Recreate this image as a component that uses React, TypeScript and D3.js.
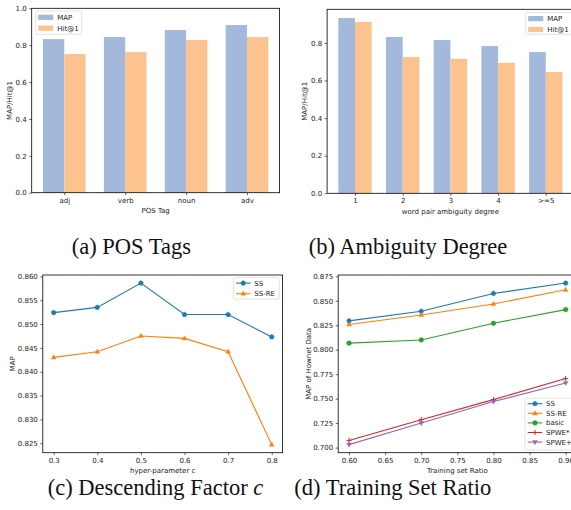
import React, { useEffect, useRef } from 'react';
import * as d3 from 'd3';

// (a) POS tags
const posTags = ['adj', 'verb', 'noun', 'adv'];
const posMap = [0.833, 0.844, 0.882, 0.909];
const posHit = [0.752, 0.763, 0.828, 0.844];

// (b) ambiguity degree
const ambDegrees = ['1', '2', '3', '4', '>=5'];
const ambMap = [0.932, 0.831, 0.815, 0.783, 0.751];
const ambHit = [0.911, 0.725, 0.715, 0.694, 0.645];

// (c) descending factor c
const cValues = [0.3, 0.4, 0.5, 0.6, 0.7, 0.8];
const cSS = [0.8524, 0.8535, 0.8586, 0.852, 0.852, 0.8473];
const cSSRE = [0.843, 0.8442, 0.8475, 0.847, 0.8442, 0.8247];

// (d) training set ratio
const ratios = [0.6, 0.7, 0.8, 0.9];
const ratioSS = [0.8295, 0.8393, 0.8575, 0.8681];
const ratioSSRE = [0.8258, 0.8355, 0.8468, 0.8612];
const ratioBasic = [0.8067, 0.81, 0.827, 0.841];
const ratioSPWEStar = [0.7073, 0.7285, 0.749, 0.7705];
const ratioSPWEPlus = [0.703, 0.725, 0.747, 0.766];

const FONT = 'DejaVu Sans';
const FS = 7;
const BLUE_BAR = '#a2b9dc';
const ORANGE_BAR = '#fdc38e';

type Box = { left: number; right: number; top: number; bottom: number };

const pentagon = (r: number) => {
  const pts = d3.range(5).map(k => {
    const a = -Math.PI / 2 + (k * 2 * Math.PI) / 5;
    return [r * Math.cos(a), r * Math.sin(a)];
  });
  return 'M' + pts.map(p => p.join(',')).join('L') + 'Z';
};

const markerPath = (kind: string) => {
  switch (kind) {
    case 'p': return pentagon(2.6);
    case '^': return 'M0,-2.6L2.4,1.6L-2.4,1.6Z';
    case 'v': return 'M0,2.6L2.4,-1.6L-2.4,-1.6Z';
    case 'o': return d3.symbol(d3.symbolCircle, 18)()!;
    case '+': return 'M-2.6,0L2.6,0M0,-2.6L0,2.6';
    default: return '';
  }
};

const drawMarker = (g: any, kind: string, x: number, y: number, color: string) => {
  const p = g.append('path').attr('d', markerPath(kind)).attr('transform', `translate(${x},${y})`);
  if (kind === '+') p.attr('fill', 'none').attr('stroke', color).attr('stroke-width', 1);
  else p.attr('fill', color).attr('stroke', color).attr('stroke-width', 0.4);
};

const styleAxis = (sel: any) => {
  sel.select('.domain').remove();
  sel.selectAll('line').attr('stroke', '#000').attr('stroke-width', 0.6);
  sel.selectAll('text').attr('font-family', FONT).attr('font-size', FS).attr('fill', '#222');
};

const frame = (g: any, b: Box, xLabel: string, yLabel: string, yLabelX: number) => {
  g.append('rect')
    .attr('x', b.left).attr('y', b.top)
    .attr('width', b.right - b.left).attr('height', b.bottom - b.top)
    .attr('fill', 'none').attr('stroke', '#000').attr('stroke-width', 0.8);
  g.append('text')
    .attr('x', (b.left + b.right) / 2).attr('y', b.bottom + 20.5)
    .attr('text-anchor', 'middle')
    .attr('font-family', FONT).attr('font-size', FS).attr('fill', '#222')
    .text(xLabel);
  g.append('text')
    .attr('transform', `translate(${yLabelX},${(b.top + b.bottom) / 2}) rotate(-90)`)
    .attr('text-anchor', 'middle').attr('dy', '0.35em')
    .attr('font-family', FONT).attr('font-size', FS).attr('fill', '#222')
    .text(yLabel);
};

const legendBox = (g: any, x: number, y: number, w: number, h: number) => {
  g.append('rect')
    .attr('x', x).attr('y', y).attr('width', w).attr('height', h).attr('rx', 1.5)
    .attr('fill', 'rgba(255,255,255,0.8)').attr('stroke', '#d6d6d6').attr('stroke-width', 0.7);
};

const legendText = (g: any, x: number, y: number, t: string) => {
  g.append('text').attr('x', x).attr('y', y).attr('dy', '0.35em')
    .attr('font-family', FONT).attr('font-size', FS).attr('fill', '#222').text(t);
};

const drawBars = (svg: any, b: Box, cats: string[], map: number[], hit: number[], yMax: number, yTicks: number[], xLabel: string, yLabelX: number, leg: { x: number; y: number; w: number; h: number }) => {
  const g = svg.append('g');
  const bw = 0.35;
  const n = cats.length;
  const span = n - 1 + 2 * bw;
  const x = d3.scaleLinear().domain([-bw - 0.05 * span, n - 1 + bw + 0.05 * span]).range([b.left, b.right]);
  const y = d3.scaleLinear().domain([0, yMax]).range([b.bottom, b.top]);
  cats.forEach((_, i) => {
    g.append('rect').attr('x', x(i - bw)).attr('width', x(i) - x(i - bw))
      .attr('y', y(map[i])).attr('height', y(0) - y(map[i])).attr('fill', BLUE_BAR);
    g.append('rect').attr('x', x(i)).attr('width', x(i + bw) - x(i))
      .attr('y', y(hit[i])).attr('height', y(0) - y(hit[i])).attr('fill', ORANGE_BAR);
  });
  g.append('g').attr('transform', `translate(0,${b.bottom})`)
    .call(d3.axisBottom(x).tickValues(d3.range(n)).tickFormat((d: any) => cats[d]).tickSize(2.5).tickPadding(2.5))
    .call(styleAxis);
  g.append('g').attr('transform', `translate(${b.left},0)`)
    .call(d3.axisLeft(y).tickValues(yTicks).tickFormat(d3.format('.1f')).tickSize(2.5).tickPadding(2.5))
    .call(styleAxis);
  frame(g, b, xLabel, 'MAP/Hit@1', yLabelX);
  legendBox(g, leg.x, leg.y, leg.w, leg.h);
  [['MAP', BLUE_BAR], ['Hit@1', ORANGE_BAR]].forEach(([t, c], i) => {
    const cy = leg.y + 6.3 + i * 10.9;
    g.append('rect').attr('x', leg.x + 2.5).attr('y', cy - 2.6).attr('width', 15).attr('height', 5.2).attr('fill', c);
    legendText(g, leg.x + 21.5, cy, t);
  });
};

type Series = { name: string; values: number[]; color: string; marker: string };

const drawLines = (svg: any, b: Box, xs: number[], series: Series[], xTicks: number[], xFmt: string, yTicks: number[], xLabel: string, yLabel: string, yLabelX: number, leg: { x: number; y: number; w: number; h: number; row: number }) => {
  const g = svg.append('g');
  const xExt = d3.extent(xs) as [number, number];
  const xPad = (xExt[1] - xExt[0]) * 0.05;
  const all = series.flatMap(s => s.values);
  const yExt = d3.extent(all) as [number, number];
  const yPad = (yExt[1] - yExt[0]) * 0.05;
  const x = d3.scaleLinear().domain([xExt[0] - xPad, xExt[1] + xPad]).range([b.left, b.right]);
  const y = d3.scaleLinear().domain([yExt[0] - yPad, yExt[1] + yPad]).range([b.bottom, b.top]);
  g.append('g').attr('transform', `translate(0,${b.bottom})`)
    .call(d3.axisBottom(x).tickValues(xTicks).tickFormat(d3.format(xFmt)).tickSize(2.5).tickPadding(2.5))
    .call(styleAxis);
  g.append('g').attr('transform', `translate(${b.left},0)`)
    .call(d3.axisLeft(y).tickValues(yTicks).tickFormat(d3.format('.3f')).tickSize(2.5).tickPadding(2.5))
    .call(styleAxis);
  const line = d3.line<number>().x((_, i) => x(xs[i])).y(v => y(v));
  series.forEach(s => {
    g.append('path').attr('d', line(s.values)).attr('fill', 'none').attr('stroke', s.color).attr('stroke-width', 1.1);
    s.values.forEach((v, i) => drawMarker(g, s.marker, x(xs[i]), y(v), s.color));
  });
  frame(g, b, xLabel, yLabel, yLabelX);
  legendBox(g, leg.x, leg.y, leg.w, leg.h);
  series.forEach((s, i) => {
    const cy = leg.y + 5.4 + i * leg.row;
    g.append('line').attr('x1', leg.x + 2.7).attr('x2', leg.x + 17.3).attr('y1', cy).attr('y2', cy)
      .attr('stroke', s.color).attr('stroke-width', 1.1);
    drawMarker(g, s.marker, leg.x + 10, cy, s.color);
    legendText(g, leg.x + 21, cy, s.name);
  });
};

// sub-figure captions, serif like the paper
const caption = (svg: any, x: number, y: number, parts: [string, boolean][]) => {
  const t = svg.append('text').attr('x', x).attr('y', y).attr('text-anchor', 'middle')
    .attr('font-family', 'Liberation Serif, Times New Roman, serif').attr('font-size', 22.5).attr('fill', '#111');
  parts.forEach(([s, it]) => t.append('tspan').attr('font-style', it ? 'italic' : 'normal').text(s));
};

const App = () => {
  const ref = useRef<SVGSVGElement>(null);

  useEffect(() => {
    const svg = d3.select(ref.current);
    svg.selectAll('*').remove();

    drawBars(svg, { left: 31.7, right: 279.6, top: 8.3, bottom: 192.7 }, posTags, posMap, posHit, 1.0,
      [0, 0.2, 0.4, 0.6, 0.8, 1.0], 'POS Tag', 9.3, { x: 35.7, y: 11, w: 46, h: 23.3 });

    drawBars(svg, { left: 327.1, right: 573.7, top: 9.3, bottom: 193.3 }, ambDegrees, ambMap, ambHit, 0.932 * 1.05,
      [0, 0.2, 0.4, 0.6, 0.8], 'word pair ambiguity degree', 305, { x: 525.7, y: 12.3, w: 46, h: 22 });

    drawLines(svg, { left: 42.8, right: 282.6, top: 275, bottom: 452.7 }, cValues, [
      { name: 'SS', values: cSS, color: '#1f77b4', marker: 'p' },
      { name: 'SS-RE', values: cSSRE, color: '#ff7f0e', marker: '^' },
    ], cValues, '.1f', d3.range(0.825, 0.8601, 0.005), 'hyper-parameter c', 'MAP', 12.7,
      { x: 233.3, y: 277.7, w: 46, h: 21.3, row: 10.6 });

    drawLines(svg, { left: 338.2, right: 576.5, top: 275, bottom: 452.7 }, ratios, [
      { name: 'SS', values: ratioSS, color: '#1f77b4', marker: 'p' },
      { name: 'SS-RE', values: ratioSSRE, color: '#ff7f0e', marker: '^' },
      { name: 'basic', values: ratioBasic, color: '#2ca02c', marker: 'o' },
      { name: 'SPWE*', values: ratioSPWEStar, color: '#d62728', marker: '+' },
      { name: 'SPWE+', values: ratioSPWEPlus, color: '#9467bd', marker: 'v' },
    ], [0.6, 0.65, 0.7, 0.75, 0.8, 0.85, 0.9], '.2f', d3.range(0.7, 0.8751, 0.025), 'Training set Ratio', 'MAP of Hownet Data', 308.3,
      { x: 525, y: 398.3, w: 50, h: 51.7, row: 9.6 });

    caption(svg, 131.3, 254, [['(a) POS Tags', false]]);
    caption(svg, 408, 254, [['(b) Ambiguity Degree', false]]);
    caption(svg, 155.5, 495, [['(c) Descending Factor ', false], ['c', true]]);
    caption(svg, 392.7, 495, [['(d) Training Set Ratio', false]]);
  }, []);

  return (
    <svg ref={ref} width={571} height={510} style={{ position: 'absolute', left: 0, top: 0, background: '#fff' }} />
  );
};

export default App;
